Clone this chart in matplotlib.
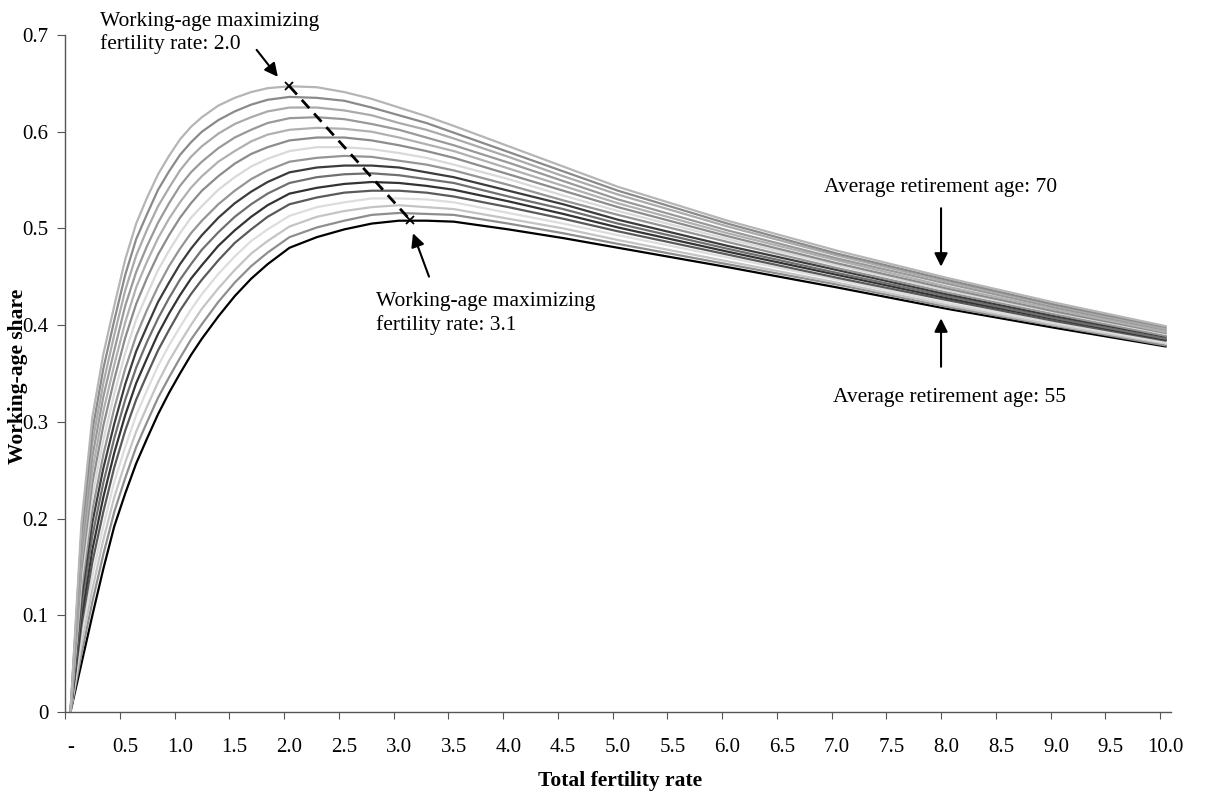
import matplotlib
matplotlib.use("Agg")
import matplotlib.pyplot as plt
import numpy as np

plt.rcParams["font.family"] = ["Liberation Serif", "DejaVu Serif"]

# total fertility rate at which the curves were read
tfr = [0, 0.1, 0.2, 0.3, 0.4, 0.5, 0.6, 0.7, 0.8, 0.9, 1.0, 1.1, 1.2, 1.35, 1.5, 1.65, 1.8, 2.0,
       2.25, 2.5, 2.75, 3.0, 3.25, 3.5, 4.0, 4.5, 5.0, 6.0, 7.0, 8.0, 9.0, 10.0]

# working-age share, one series per average retirement age
share_55 = [0, .050, .100, .148, .192, .226, .257, .283, .308, .330, .350, .369, .386, .409, .430, .448, .463, .480, .491, .499, .505, .508, .508, .507, .499, .490, .480, .460, .439, .417, .397, .378]
share_56 = [0, .060, .114, .163, .207, .242, .274, .300, .325, .346, .366, .385, .401, .424, .444, .461, .475, .491, .501, .508, .514, .516, .515, .514, .505, .495, .484, .463, .442, .419, .399, .379]
share_57 = [0, .069, .127, .178, .222, .258, .290, .316, .341, .363, .382, .400, .417, .438, .457, .474, .487, .502, .512, .518, .522, .524, .522, .520, .510, .500, .488, .466, .444, .421, .400, .381]
share_58 = [0, .079, .141, .192, .238, .274, .307, .333, .358, .379, .398, .416, .432, .453, .471, .487, .499, .513, .522, .527, .531, .531, .530, .527, .516, .505, .493, .470, .447, .423, .402, .382]
share_59 = [0, .089, .155, .207, .253, .291, .323, .349, .374, .395, .415, .432, .447, .467, .485, .499, .512, .525, .532, .537, .539, .539, .537, .533, .522, .510, .497, .473, .449, .426, .404, .384]
share_60 = [0, .098, .168, .222, .268, .307, .340, .366, .391, .412, .431, .448, .462, .482, .498, .512, .524, .536, .542, .546, .548, .547, .544, .540, .528, .515, .501, .476, .452, .428, .406, .385]
share_61 = [0, .108, .182, .237, .283, .323, .356, .383, .407, .428, .447, .463, .478, .496, .512, .525, .536, .547, .553, .556, .557, .555, .551, .547, .533, .520, .505, .479, .454, .430, .407, .386]
share_62 = [0, .118, .196, .252, .298, .339, .373, .399, .424, .444, .463, .479, .493, .511, .526, .538, .548, .558, .563, .565, .565, .563, .558, .553, .539, .525, .509, .482, .457, .432, .409, .388]
share_63 = [0, .127, .209, .266, .314, .355, .389, .416, .440, .461, .479, .495, .508, .525, .539, .551, .560, .569, .573, .575, .574, .570, .566, .560, .545, .529, .514, .486, .459, .434, .411, .389]
share_64 = [0, .137, .223, .281, .329, .371, .406, .432, .457, .477, .495, .511, .523, .540, .553, .564, .572, .580, .584, .584, .582, .578, .573, .566, .551, .534, .518, .489, .462, .436, .413, .391]
share_65 = [0, .147, .237, .296, .344, .387, .422, .449, .473, .493, .511, .526, .539, .554, .567, .577, .584, .591, .594, .594, .591, .586, .580, .573, .556, .539, .522, .492, .464, .438, .414, .392]
share_66 = [0, .156, .250, .311, .359, .403, .439, .466, .490, .510, .527, .542, .554, .569, .580, .590, .597, .602, .604, .603, .600, .594, .587, .580, .562, .544, .526, .495, .467, .440, .416, .393]
share_67 = [0, .166, .264, .326, .374, .420, .455, .482, .506, .526, .544, .558, .569, .583, .594, .602, .609, .614, .615, .613, .608, .602, .594, .586, .568, .549, .530, .498, .469, .443, .418, .395]
share_68 = [0, .176, .278, .340, .390, .436, .472, .499, .523, .542, .560, .574, .585, .598, .608, .615, .621, .625, .625, .622, .617, .609, .602, .593, .574, .554, .535, .502, .472, .445, .420, .396]
share_69 = [0, .185, .291, .355, .405, .452, .489, .515, .540, .559, .576, .589, .600, .612, .621, .628, .633, .636, .635, .632, .625, .617, .609, .599, .579, .559, .539, .505, .474, .447, .421, .398]
share_70 = [0, .195, .305, .370, .420, .468, .505, .532, .556, .575, .592, .605, .615, .627, .635, .641, .645, .647, .646, .641, .634, .625, .616, .606, .585, .564, .543, .508, .477, .449, .423, .399]

series = [share_55, share_56, share_57, share_58, share_59, share_60, share_61, share_62,
          share_63, share_64, share_65, share_66, share_67, share_68, share_69, share_70]
grays = ["#000000", "#8e8e8e", "#c4c4c4", "#dddddd", "#5a5a5a", "#333333", "#707070", "#3c3c3c",
         "#959595", "#d9d9d9", "#8c8c8c", "#b0b0b0", "#999999", "#aaaaaa", "#8a8a8a", "#b5b5b5"]

# locus of the maximizing fertility rate
peak_tfr = [2.0, 3.1]
peak_share = [0.647, 0.509]

xlabels = ["-"] + [f"{v:.1f}" for v in np.arange(1, 21) * 0.5]
ylabels = ["0", "0.1", "0.2", "0.3", "0.4", "0.5", "0.6", "0.7"]

fig = plt.figure(figsize=(12.06, 7.93), dpi=100)
ax = fig.add_axes([65 / 1206, 1 - 712 / 793, (1171 - 65) / 1206, (712 - 35) / 793])

for ys, c in zip(series, grays):
    ax.plot(tfr, ys, color=c, lw=1.6, solid_joinstyle="round")

ax.plot(peak_tfr, peak_share, color="black", lw=2, ls=(0, (4, 2.6)))
ax.plot(peak_tfr, peak_share, ls="none", marker="x", ms=6, mew=1.3, color="black")

ax.set_xlim(-0.05, 10.05)
ax.set_ylim(0, 0.7)
for s in ("top", "right"):
    ax.spines[s].set_visible(False)
for s in ("left", "bottom"):
    ax.spines[s].set_color("#555555")
    ax.spines[s].set_linewidth(1.0)

# category-style axis: ticks between categories, labels on them
ax.set_xticks(np.arange(21) * 0.5 - 0.05)
ax.set_xticklabels([])
ax.set_xticks(np.arange(21) * 0.5, minor=True)
ax.set_xticklabels(xlabels, minor=True, fontsize=15)
ax.tick_params(axis="x", which="major", length=5, color="#555555")
ax.tick_params(axis="x", which="minor", length=0, pad=19)
ax.set_yticks(np.arange(8) * 0.1)
ax.set_yticklabels(ylabels, fontsize=15)
ax.tick_params(axis="y", length=6, color="#555555", pad=6)

fig.text(620 / 1206, 1 - 781 / 793, "Total fertility rate", ha="center", va="center",
         fontsize=15.5, fontweight="bold")
fig.text(18 / 1206, 1 - 376 / 793, "Working-age share", ha="center", va="center",
         rotation=90, fontsize=15.5, fontweight="bold")

arrow = dict(arrowstyle="-|>", color="black", lw=1.5, mutation_scale=20, shrinkA=0, shrinkB=0)
ax.text(0.27, 0.724, "Working-age maximizing\nfertility rate: 2.0", fontsize=15.5,
        va="top", ha="left", linespacing=1.25, clip_on=False)
ax.annotate("", xy=(1.894, 0.6567), xytext=(1.70, 0.6846), arrowprops=arrow, annotation_clip=False)

ax.text(2.79, 0.434, "Working-age maximizing\nfertility rate: 3.1", fontsize=15.5,
        va="top", ha="left", linespacing=1.25)
ax.annotate("", xy=(3.128, 0.495), xytext=(3.274, 0.4502), arrowprops=arrow)

ax.text(6.88, 0.542, "Average retirement age: 70", fontsize=15.5, va="center", ha="left")
ax.annotate("", xy=(7.95, 0.4605), xytext=(7.95, 0.5209), arrowprops=arrow)
ax.text(6.96, 0.325, "Average retirement age: 55", fontsize=15.5, va="center", ha="left")
ax.annotate("", xy=(7.95, 0.407), xytext=(7.95, 0.357), arrowprops=arrow)

fig.savefig("out.png", dpi=100)
